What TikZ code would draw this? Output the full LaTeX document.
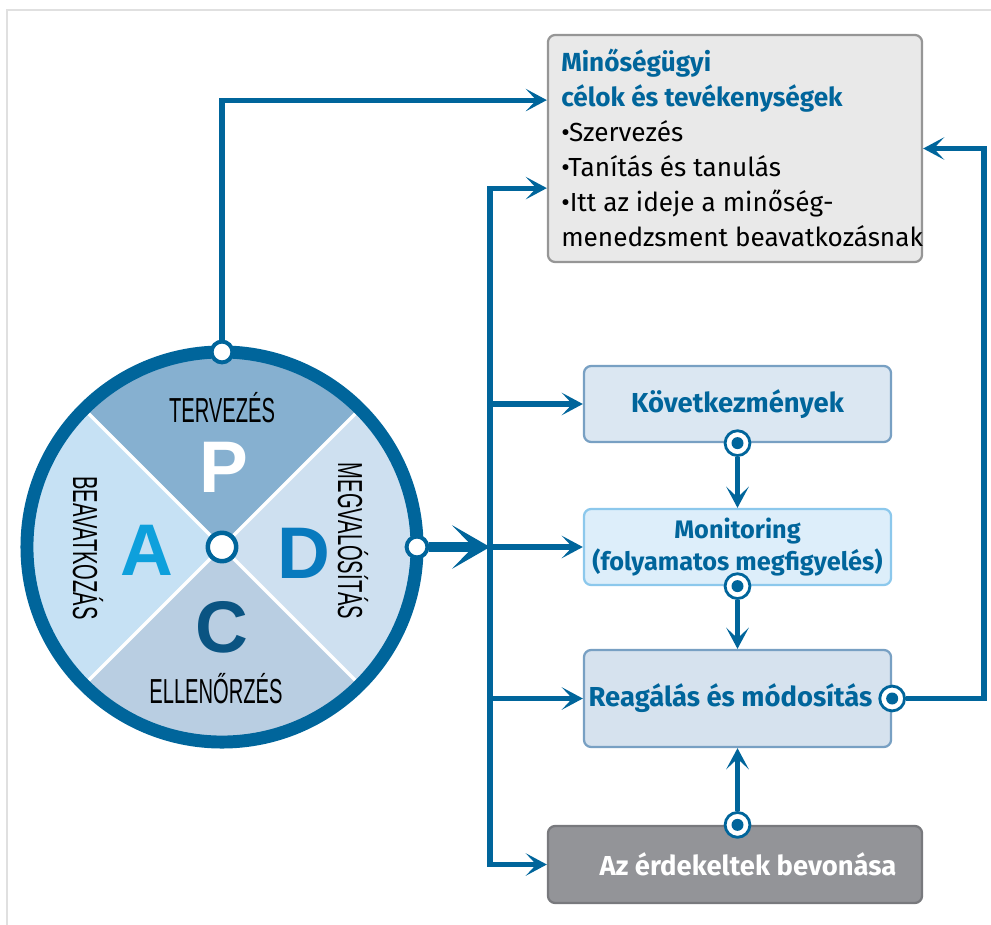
\documentclass[tikz,border=0pt]{standalone}
\usepackage{fontspec}
\usepackage{graphicx}
\setmainfont{Fira Sans}
\newfontfamily\letterfont{Liberation Sans}
\usetikzlibrary{arrows.meta,positioning,calc}
\definecolor{pdblue}{RGB}{0,101,155}
\definecolor{ptop}{RGB}{134,176,208}
\definecolor{pleft}{RGB}{198,225,244}
\definecolor{pbot}{RGB}{185,206,226}
\definecolor{pright}{RGB}{206,224,240}
\definecolor{aletter}{RGB}{14,160,220}
\definecolor{dletter}{RGB}{8,122,190}
\definecolor{cletter}{RGB}{10,84,130}
\definecolor{goalfill}{RGB}{233,233,233}
\definecolor{goalline}{RGB}{150,150,150}
\definecolor{kfill}{RGB}{219,231,242}
\definecolor{kline}{RGB}{120,160,195}
\definecolor{mfill}{RGB}{221,238,250}
\definecolor{mline}{RGB}{140,200,236}
\definecolor{rfill}{RGB}{214,226,238}
\definecolor{bfill}{RGB}{147,148,152}
\definecolor{bline}{RGB}{120,121,125}
\newcommand{\wheelR}{4.875cm}

\begin{document}
\begin{tikzpicture}[x=0.025cm,y=-0.025cm,
    >={Stealth[length=15pt,width=16pt,inset=7.5pt]},
    box/.style={draw,rounded corners=0.18cm,line width=1.6pt,inner sep=0pt},
    ttl/.style={font=\fontsize{19.5}{22.7}\selectfont\bfseries,text=pdblue},
    link/.style={pdblue,line width=3.6pt},
    arr/.style={link,->},
    knob/.style={circle,draw=pdblue,fill=white,line width=2.8pt,
                 minimum size=0.52cm,inner sep=0pt},
    dotknob/.style={circle,draw=pdblue,fill=white,line width=2pt,
                 minimum size=0.62cm,inner sep=0pt,
                 path picture={\fill[pdblue] (path picture bounding box.center) circle[radius=0.15cm];}},
    lbl/.style={font=\letterfont\fontsize{24.7}{26}\selectfont},
    big/.style={font=\letterfont\bfseries\fontsize{52}{52}\selectfont}]

    \useasboundingbox (0,0) rectangle (991,925);
    \draw[black!12,line width=1pt] (7,925) -- (7,10) -- (991,10);

    % PDCA wheel
    \coordinate (o) at (222,547);
    \foreach \a/\c in {45/ptop,135/pleft,225/pbot,315/pright}
      \fill[\c] (o) -- ++(\a:\wheelR) arc[start angle=\a,delta angle=90,radius=\wheelR] -- cycle;
    \draw[white,line width=2.5pt] (o) ++(45:\wheelR) -- ++(225:9.75cm);
    \draw[white,line width=2.5pt] (o) ++(135:\wheelR) -- ++(315:9.75cm);
    \draw[pdblue,line width=9.2pt] (o) circle[radius=\wheelR];

    \node[big,white] (lp) at (224,467) {P};
    \node[big,text=aletter] (la) at (147,550) {A};
    \node[big,text=dletter] (ld) at (304,553) {D};
    \node[big,text=cletter] (lc) at (222,627) {C};

    \node[lbl,anchor=base] (tp) at (222,422) {\scalebox{0.58}[1]{TERVEZÉS}};
    \node[lbl,anchor=base] (tc) at (216,703) {\scalebox{0.58}[1]{ELLENŐRZÉS}};
    \node[lbl,rotate=-90] (ta) at (88,548) {\scalebox{0.58}[1]{BEAVATKOZÁS}};
    \node[lbl,rotate=-90] (td) at (353,541) {\scalebox{0.58}[1]{MEGVALÓSÍTÁS}};

    \node[knob] (kp) at (222,352) {};
    \node[knob] (kd) at (417,547) {};
    \node[knob,minimum size=0.71cm,line width=3.2pt] (kc) at (o) {};

    % boxes
    \node[box,draw=goalline,fill=goalfill,minimum width=9.35cm,minimum height=5.675cm] (goal) at (735,148.5) {};
    \node[anchor=north west,align=left,inner sep=0pt,
          font=\fontsize{18.6}{24.8}\selectfont] (goaltxt) at (561,49)
      {\textcolor{pdblue}{\bfseries Minőségügyi}\\
       \textcolor{pdblue}{\bfseries célok és tevékenységek}\\
       •Szervezés\\
       •Tanítás és tanulás\\
       •Itt az ideje a minőség-\\
       menedzsment beavatkozásnak};

    \node[box,ttl,draw=kline,fill=kfill,minimum width=7.675cm,minimum height=1.9cm] (kov) at (737.5,404) {Következmények};
    \node[box,ttl,draw=mline,fill=mfill,minimum width=7.675cm,minimum height=1.9cm,align=center,
          font=\fontsize{18}{22.7}\selectfont\bfseries] (mon) at (737.5,547)
      {Monitoring\\(folyamatos megfigyelés)};
    \node[box,ttl,draw=kline,fill=rfill,minimum width=7.675cm,minimum height=2.425cm] (rea) at (737.5,698.5)
      {Reagálás és módosítás\hspace*{0.35cm}};
    \node[box,ttl,text=white,draw=bline,fill=bfill,minimum width=9.35cm,minimum height=1.925cm] (bev) at (735,864.5)
      {\hspace*{0.65cm}Az érdekeltek bevonása};

    \node[dotknob] (kk) at (kov.south) {};
    \node[dotknob] (km) at (mon.south) {};
    \node[dotknob] (kr) at (rea.east) {};
    \node[dotknob] (kb) at (bev.north -| rea.south) {};

    % connectors
    \coordinate (jn) at (490,547);
    \draw[arr] (kp) |- ([yshift=1.21cm]goal.west);
    \draw[link,<->] ([yshift=-0.99cm]goal.west) -| (jn) |- (bev.west);
    \draw[arr] (jn |- kov.west) -- (kov.west);
    \draw[arr] (jn) -- (mon.west);
    \draw[arr] (jn |- rea.west) -- (rea.west);
    \draw[pdblue,line width=7.8pt,-{Stealth[length=27pt,width=31pt,inset=15pt]}] (kd) -- (jn);
    \draw[arr] (kk) -- (mon.north);
    \draw[arr] (km) -- (rea.north);
    \draw[arr] (kb) -- (rea.south);
    \draw[arr] (kr) -| ([xshift=1.52cm]goal.east) -- (goal.east);
\end{tikzpicture}
\end{document}
